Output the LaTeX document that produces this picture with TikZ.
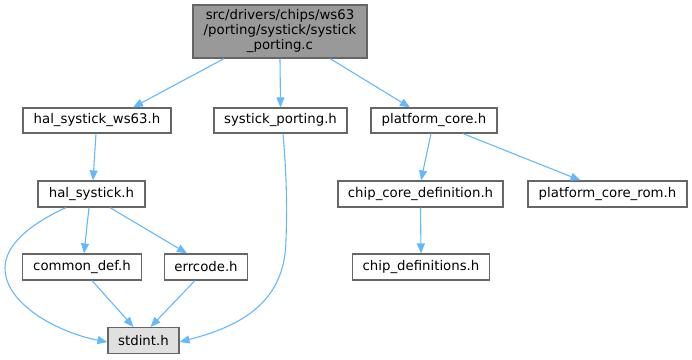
\documentclass[tikz,border=0pt]{standalone}
\usepackage{fontspec}
\setmainfont{DejaVu Sans}
\usetikzlibrary{arrows.meta,calc}
\definecolor{edgeblue}{HTML}{63B8FF}
\definecolor{boxborder}{HTML}{666666}
\definecolor{topfill}{HTML}{999999}
\definecolor{leaffill}{HTML}{E0E0E0}
\tikzset{
  filebox/.style={draw=boxborder, line width=1.2pt, fill=white, rectangle, inner sep=0pt,
    minimum height=25pt, font=\fontsize{13.3}{15}\selectfont, text=black},
  dep/.style={draw=edgeblue, line width=1.1pt, -{Triangle[length=10pt,width=8pt]}, shorten <=0pt}
}
\begin{document}
\begin{tikzpicture}[x=1pt,y=-1pt]
\useasboundingbox (0,0) rectangle (692,359);
\node[filebox, fill=topfill, minimum width=174pt, minimum height=53pt, align=center] (top) at (280,31.5)
  {src/drivers/chips/ws63\\/porting/systick/systick\\\_porting.c};
\node[filebox, minimum width=148pt] (ws) at (97,120.5) {hal\_systick\_ws63.h};
\node[filebox, minimum width=133pt] (sp) at (280.5,120.5) {systick\_porting.h};
\node[filebox, minimum width=126pt] (pc) at (434,120.5) {platform\_core.h};
\node[filebox, minimum width=107pt, minimum height=26pt] (hs) at (91.5,194) {hal\_systick.h};
\node[filebox, minimum width=165pt, minimum height=26pt] (ccd) at (420.5,194) {chip\_core\_definition.h};
\node[filebox, minimum width=159pt, minimum height=26pt] (pcr) at (607.5,194) {platform\_core\_rom.h};
\node[filebox, minimum width=119pt, minimum height=26pt] (cd) at (82,267) {common\_def.h};
\node[filebox, minimum width=83pt, minimum height=26pt] (err) at (206,267) {errcode.h};
\node[filebox, minimum width=137pt, minimum height=26pt] (chd) at (421,267) {chip\_definitions.h};
\node[filebox, fill=leaffill, minimum width=71pt, minimum height=26pt] (std) at (143.5,340.5) {stdint.h};

\draw[dep] ([xshift=-56pt]top.south) -- ([xshift=36pt]ws.north);
\draw[dep] (top.south) -- (sp.north);
\draw[dep] ([xshift=50pt]top.south) -- ([xshift=-24pt]pc.north);
\draw[dep] ([xshift=-1pt]ws.south) -- ([xshift=1.5pt]hs.north);
\draw[dep] ([xshift=-2.5pt]hs.south) -- ([xshift=2pt]cd.north);
\draw[dep] ([xshift=18.5pt]hs.south) -- ([xshift=-19pt]err.north);
\draw[dep] ([xshift=-25.5pt]hs.south) .. controls (30,224) and (5,245) .. (5,268)
  .. controls (5,305) and (60,333) .. ([yshift=-1.5pt]std.west);
\draw[dep] ([xshift=10pt]cd.south) -- ([xshift=-10pt]std.north);
\draw[dep] ([xshift=-11pt]err.south) -- ([xshift=7pt]std.north);
\draw[dep] ([xshift=2.5pt]sp.south) .. controls (287,180) and (287,210) .. (286,240)
  .. controls (285,300) and (245,325) .. ([yshift=-1.5pt]std.east);
\draw[dep] ([xshift=-3pt]pc.south) -- ([xshift=0.5pt]ccd.north);
\draw[dep] ([xshift=29pt]pc.south) -- ([xshift=-27pt]pcr.north);
\draw[dep] (ccd.south) -- (chd.north);
\end{tikzpicture}
\end{document}
